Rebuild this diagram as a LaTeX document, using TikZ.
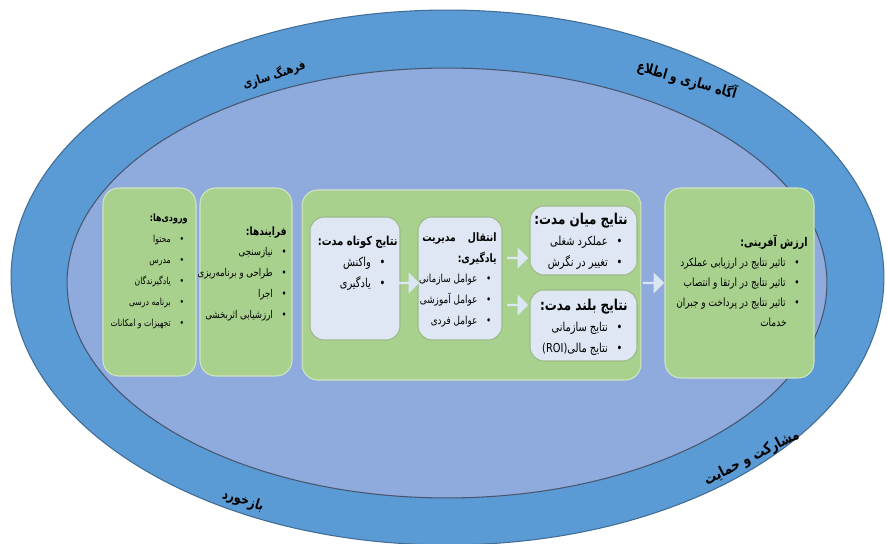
\documentclass[tikz,border=0pt]{standalone}
\usepackage{fontspec}
\newfontfamily\arabicfont[Script=Arabic, FakeStretch=0.8]{DejaVu Sans}
\TeXXeTstate=1
\usetikzlibrary{shapes.arrows,shapes.geometric}

\definecolor{ringblue}{HTML}{5B9BD5}
\definecolor{innerblue}{HTML}{8FAADC}
\definecolor{boxgreen}{HTML}{A9D18E}
\definecolor{boxlight}{HTML}{DEE7F3}
\definecolor{arrowfill}{HTML}{DCE7F4}

% one right-to-left line, a title size switch and a bullet line
\newcommand{\fa}[1]{\beginR #1\endR}
\newcommand{\ttl}[1]{\fontsize{#1}{11.9pt}\selectfont\bfseries}
\newcommand{\bline}[2][2pt]{\beginR\hspace{#1}•\hspace{5pt}#2\endR}

\tikzset{
    greenbox/.style={draw=boxgreen!55!white, fill=boxgreen, line width=0.6pt, rounded corners=9pt},
    lightbox/.style={draw=boxgreen!70!gray, fill=boxlight, line width=0.6pt, rounded corners=8pt},
    boxtext/.style={anchor=north east, align=right, inner sep=0pt, font=\arabicfont\fontsize{#1}{11.9pt}\selectfont},
    ringtext/.style={font=\arabicfont\bfseries\fontsize{#1}{#1}\selectfont},
    blockarrow/.style={single arrow, fill=arrowfill, draw=none, minimum height=0.42cm, minimum width=0.42cm, single arrow head extend=0.06cm, inner sep=0pt}
}

\begin{document}
\begin{tikzpicture}[x=0.02cm, y=-0.02cm]
    \useasboundingbox[fill=white] (0,0) rectangle (887,544);

    % rings
    \node[draw=ringblue!70!black, fill=ringblue, ellipse, minimum width=17.46cm, minimum height=10.7cm, line width=0.6pt] (outer) at (447.5,277.5) {};
    \node[draw=innerblue!50!black, fill=innerblue, ellipse, minimum width=15.2cm, minimum height=8.6cm, line width=0.6pt] (inner) at (447,283) {};

    \node[ringtext=7, rotate=18] (culture) at (274,75) {\beginR فرهنگ سازی\endR};
    \node[ringtext=8, rotate=-16] (aware) at (687,80) {\beginR آگاه سازی و اطلاع\endR};
    \node[ringtext=8.5, rotate=27] (support) at (752,458) {\beginR مشارکت و حمایت\endR};
    \node[ringtext=8, rotate=-17] (feedback) at (243,501) {\beginR بازخورد\endR};

    % boxes
    \node[greenbox, minimum width=1.86cm, minimum height=3.76cm] (in) at (149.5,282) {};
    \node[greenbox, minimum width=1.84cm, minimum height=3.76cm] (proc) at (246,282) {};
    \node[greenbox, minimum width=6.78cm, minimum height=3.8cm] (mid) at (471.5,285) {};
    \node[greenbox, minimum width=2.98cm, minimum height=3.8cm] (value) at (739.5,283) {};

    \node[lightbox, minimum width=1.8cm, minimum height=2.46cm] (short) at (355,278.5) {};
    \node[lightbox, minimum width=1.68cm, minimum height=2.46cm] (trans) at (460,278.5) {};
    \node[lightbox, minimum width=2.14cm, minimum height=1.38cm] (medium) at (583.5,240.5) {};
    \node[lightbox, minimum width=2.14cm, minimum height=1.42cm] (long) at (583.5,325.5) {};

    % texts
    \node[boxtext=5.5] (intxt) at (188,214) {{\ttl{5.7}\beginR ورودی‌ها:\endR}\\ \bline{محتوا}\\ \bline{مدرس}\\ \bline{یادگیرندگان}\\ \bline{برنامه درسی}\\ \bline{تجهیزات و امکانات}};
    \node[boxtext=6.1] (proctxt) at (287,226) {{\ttl{6.5}\beginR فرایندها:\endR}\\ \bline[0pt]{نیازسنجی}\\ \bline[0pt]{طراحی و برنامه‌ریزی}\\ \bline[0pt]{اجرا}\\ \bline[0pt]{ارزشیابی اثربخشی}};
    \node[boxtext=7] (shorttxt) at (398,236) {{\ttl{7}\beginR نتایج کوتاه مدت:\endR}\\ \bline[7pt]{واکنش}\\ \bline[7pt]{یادگیری}};
    \node[boxtext=6.3] (transtxt) at (497,232) {{\ttl{6.6}\beginR انتقال\hspace{5pt} مدیریت\endR}\\ {\ttl{6.6}\beginR یادگیری:\endR}\\ \bline[3pt]{عوامل سازمانی}\\ \bline[3pt]{عوامل آموزشی}\\ \bline[3pt]{عوامل فردی}};
    \node[boxtext=7] (mediumtxt) at (628,213) {{\ttl{8.5}\beginR نتایج میان مدت:\endR}\\ \bline[3pt]{عملکرد شغلی}\\ \bline[3pt]{تغییر در نگرش}};
    \node[boxtext=7] (longtxt) at (628,299) {{\ttl{8.5}\beginR نتایج بلند مدت:\endR}\\ \bline[3pt]{نتایج سازمانی}\\ \bline[3pt]{نتایج مالی\beginL(ROI)\endL}};
    \node[boxtext=6.4, font=\arabicfont\fontsize{6.4}{11.3pt}\selectfont] (valuetxt) at (808,235) {{\ttl{6.8}\beginR ارزش آفرینی:\endR}\\ \bline[4.5pt]{تاثیر نتایج در ارزیابی عملکرد}\\ \bline[4.5pt]{تاثیر نتایج در ارتقا و انتصاب}\\ \bline[4.5pt]{تاثیر نتایج در پرداخت و جبران}\\ \fa{\hspace{12pt}خدمات}};

    % arrows
    \node[blockarrow] (a1) at (408,283) {};
    \node[blockarrow] (a2) at (517,258) {};
    \node[blockarrow] (a3) at (517,305) {};
    \node[blockarrow] (a4) at (653,283) {};
\end{tikzpicture}
\end{document}
